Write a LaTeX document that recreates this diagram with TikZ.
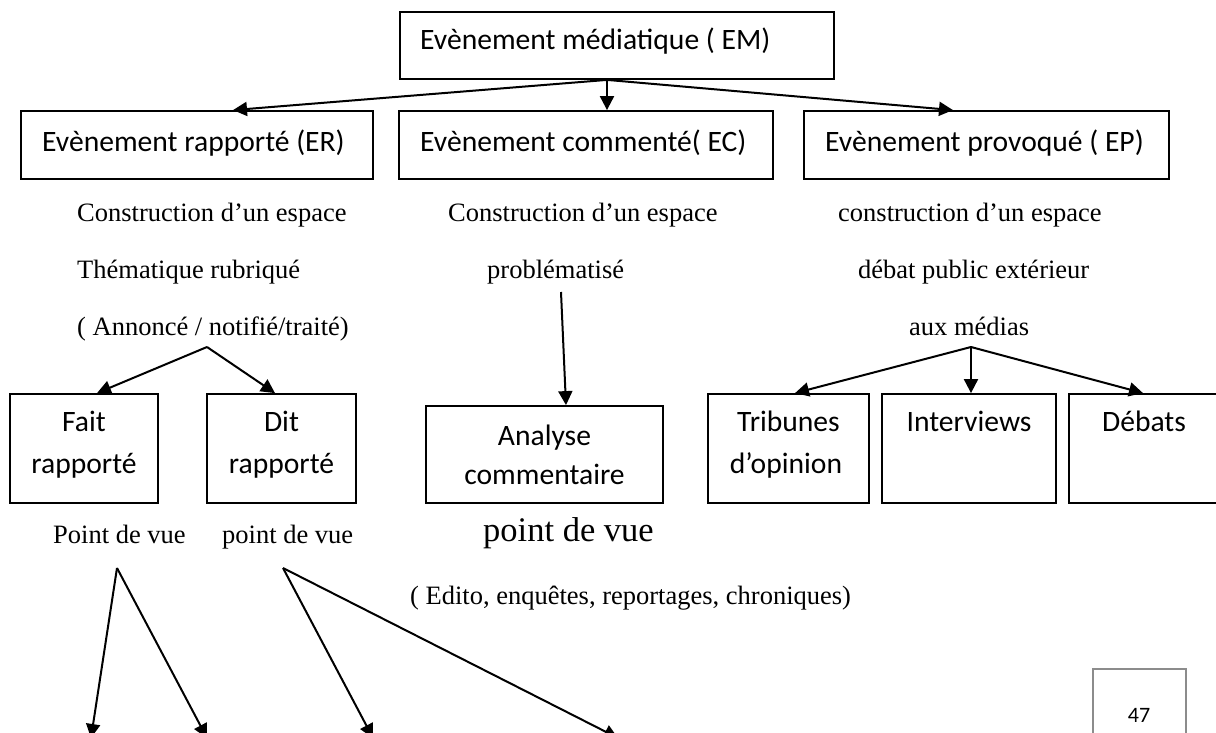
\documentclass[tikz,border=0pt]{standalone}
\usepackage{fontspec}
\setmainfont{Liberation Serif}
\newfontfamily\calib{Carlito}
\usetikzlibrary{arrows.meta}

\begin{document}
\begin{tikzpicture}[x=1pt,y=-1pt,
  box/.style={draw=black, line width=1.8pt, inner sep=0pt},
  lbl/.style={font=\calib\fontsize{29.6}{35}\selectfont, inner sep=0pt},
  serif/.style={font=\fontsize{26.5}{32}\selectfont, inner sep=0pt, anchor=base west},
  arr/.style={line width=2pt, -{Triangle[length=14pt,width=14pt]}}]
\useasboundingbox (0,0) rectangle (1216,733);
\clip (0,0) rectangle (1216,733);

% top level
\node (em) [box, minimum width=434pt, minimum height=67pt] at (617,45.5) {};
\node (emtxt) [lbl, anchor=base west] at (420,50) {Evènement médiatique ( EM)};

% three kinds of event
\node (er) [box, minimum width=352pt, minimum height=68pt] at (197,145) {};
\node (ertxt) [lbl, anchor=base west] at (42,152) {Evènement rapporté (ER)};
\node (ec) [box, minimum width=374pt, minimum height=68pt] at (586,145) {};
\node (ectxt) [lbl, anchor=base west] at (420,152) {Evènement commenté( EC)};
\node (ep) [box, minimum width=365pt, minimum height=68pt] at (986.5,145) {};
\node (eptxt) [lbl, anchor=base west] at (825,152) {Evènement provoqué ( EP)};

\coordinate (emfoot) at ([xshift=-10pt]em.south);
\draw[arr] (emfoot) -- ([xshift=36pt]er.north);
\draw[arr] (emfoot) -- ([xshift=21pt]ec.north);
\draw[arr] (emfoot) -- ([xshift=-33.5pt]ep.north);

% descriptions
\node (r1) [serif] at (77,221) {Construction d’un espace};
\node (r2) [serif] at (77,278) {Thématique rubriqué};
\node (r3) [serif] at (77,335) {( Annoncé / notifié/traité)};
\node (c1) [serif] at (448,221) {Construction d’un espace};
\node (c2) [serif] at (487,278) {problématisé};
\node (p1) [serif] at (838,221) {construction d’un espace};
\node (p2) [serif] at (858,278) {débat public extérieur};
\node (p3) [serif] at (909,335) {aux médias};

% genres
\node (fait) [box, minimum width=148pt, minimum height=109pt] at (84,448.5) {};
\node (fait1) [lbl, anchor=base] at (84,431) {Fait};
\node (fait2) [lbl, anchor=base] at (84,473) {rapporté};
\node (dit) [box, minimum width=149pt, minimum height=109pt] at (281.5,448.5) {};
\node (dit1) [lbl, anchor=base] at (281.5,431) {Dit};
\node (dit2) [lbl, anchor=base] at (281.5,473) {rapporté};
\node (ana) [box, minimum width=237pt, minimum height=97pt] at (544.5,454.5) {};
\node (ana1) [lbl, anchor=base] at (544.5,445) {Analyse};
\node (ana2) [lbl, anchor=base] at (544.5,484) {commentaire};
\node (trib) [box, minimum width=161pt, minimum height=109pt] at (788.5,448.5) {};
\node (trib1) [lbl, anchor=base] at (788.5,431) {Tribunes};
\node (trib2) [lbl, anchor=base] at (786,473) {d’opinion};
\node (inter) [box, minimum width=174pt, minimum height=109pt] at (969,448.5) {};
\node (inter1) [lbl, anchor=base] at (969,431) {Interviews};
\node (deb) [box, minimum width=151pt, minimum height=109pt] at (1144.5,448.5) {};
\node (deb1) [lbl, anchor=base] at (1144,431) {Débats};

\coordinate (rfoot) at (207,347);
\draw[arr] (rfoot) -- ([xshift=13pt]fait.north);
\draw[arr] (rfoot) -- ([xshift=-6.5pt]dit.north);
\coordinate (cfoot) at (561,292);
\draw[arr] (cfoot) -- ([xshift=21.5pt]ana.north);
\coordinate (pfoot) at (971,347);
\draw[arr] (pfoot) -- ([xshift=6.5pt]trib.north);
\draw[arr] (pfoot) -- ([xshift=2pt]inter.north);
\draw[arr] (pfoot) -- ([xshift=-1.5pt]deb.north);

% points of view
\node (pv1) [serif] at (53,543) {Point de vue};
\node (pv2) [serif] at (222,543) {point de vue};
\node (pv3) [serif, font=\fontsize{34.5}{40}\selectfont] at (483,541) {point de vue};
\node (edito) [serif] at (410,604) {( Edito, enquêtes, reportages, chroniques)};

\coordinate (v1) at (117,568);
\coordinate (v2) at (283,568);
\coordinate (t1) at (91,738);
\coordinate (t2) at (207,738);
\coordinate (t3) at (373,738);
\coordinate (t4) at (618,738);
\draw[arr] (v1) -- (t1);
\draw[arr] (v1) -- (t2);
\draw[arr] (v2) -- (t3);
\draw[arr] (v2) -- (t4);

% page number
\node (pg) [draw=black!45, line width=1.5pt, minimum width=93pt, minimum height=80pt, inner sep=0pt] at (1139.5,709) {};
\node (pgnum) [font=\calib\fontsize{22}{26}\selectfont, inner sep=0pt, anchor=base] at (1139,722) {47};
\end{tikzpicture}
\end{document}
